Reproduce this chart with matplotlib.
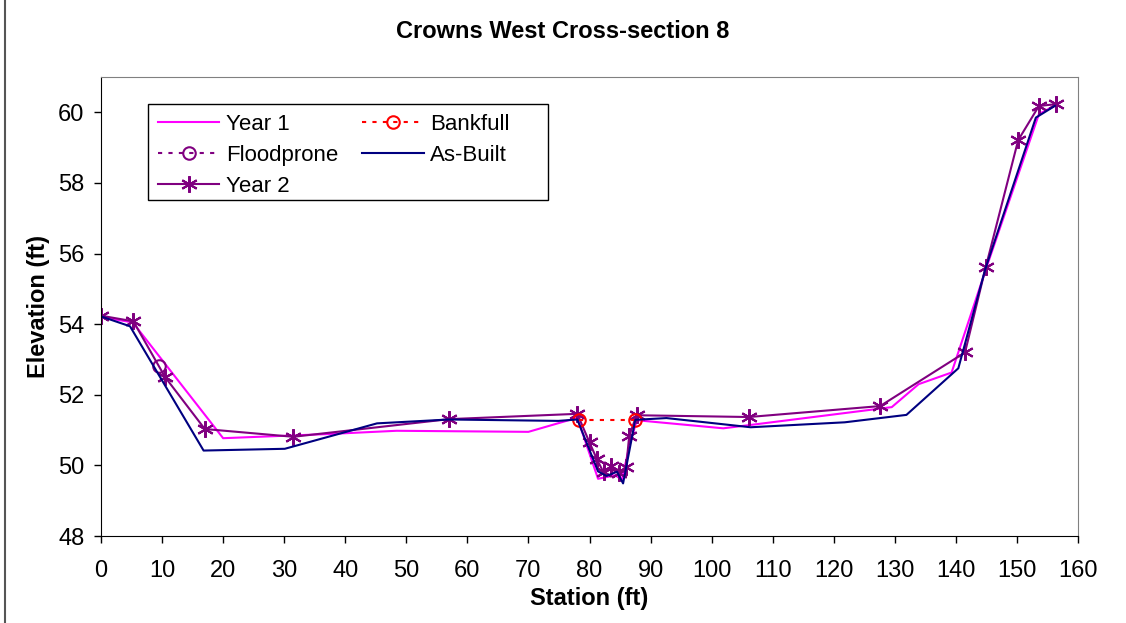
import matplotlib
matplotlib.use("Agg")
import matplotlib.pyplot as plt
from matplotlib.lines import Line2D
from matplotlib.patches import Rectangle

plt.rcParams['font.family'] = ['Liberation Sans', 'DejaVu Sans']

# Year 1 survey
y1_x = [0, 5.2, 20.0, 37.5, 48.4, 70.0, 78.0, 81.4, 84.2, 85.3, 86.6, 87.8, 88.3,
        101.9, 106.6, 129.5, 133.9, 139.3, 145.0, 153.6, 156.3]
y1_y = [54.20, 54.05, 50.77, 50.89, 50.98, 50.95, 51.35, 49.62, 49.72, 49.60, 50.60, 51.30, 51.27,
        51.05, 51.15, 51.65, 52.30, 52.63, 55.60, 59.95, 60.20]

# As-Built survey
ab_x = [0, 4.75, 16.8, 30.1, 45.2, 57.0, 74.9, 78.0, 81.4, 82.8, 84.5, 85.5, 87.5, 92.6,
        106.4, 121.8, 131.9, 140.4, 144.8, 153.1, 156.2]
ab_y = [54.22, 53.94, 50.42, 50.47, 51.19, 51.30, 51.26, 51.30, 49.83, 49.70, 49.82, 49.49, 51.29, 51.34,
        51.08, 51.22, 51.43, 52.75, 55.55, 59.85, 60.18]

# Year 2 survey
y2_x = [0, 5.3, 10.5, 17.0, 31.5, 57.0, 78.0, 80.0, 81.2, 82.3, 83.6, 84.8, 86.0, 86.5, 87.7,
        106.1, 127.6, 141.5, 144.9, 150.2, 153.6, 156.4]
y2_y = [54.24, 54.08, 52.50, 51.03, 50.81, 51.31, 51.46, 50.65, 50.18, 49.80, 49.97, 49.78, 49.95, 50.83, 51.42,
        51.37, 51.68, 53.20, 55.62, 59.21, 60.18, 60.23]

# Bankfull and floodprone
bf_x = [78.3, 87.5]
bf_y = [51.29, 51.29]
fp_x = [9.5]
fp_y = [52.82]

xticks = list(range(0, 161, 10))
yticks = list(range(48, 61, 2))

W, H = 1126, 623
fig = plt.figure(figsize=(W/100, H/100), dpi=100)
L, R, T, B = 101, 1078, 77, 536
ax = fig.add_axes([L/W, 1 - B/H, (R - L)/W, (B - T)/H])

ax.plot(y1_x, y1_y, color='#FF00FF', lw=1.5, label='Year 1')
ax.plot(fp_x, fp_y, color='#800080', ls=(0, (2, 3)), lw=1.5, marker='o', ms=9,
        mfc='none', mec='#800080', mew=1.5, label='Floodprone')
ax.plot(y2_x, y2_y, color='#800080', lw=1.5, marker=(6, 2, 0), ms=12, mew=1.5,
        mec='#800080', label='Year 2')
ax.plot(bf_x, bf_y, color='#FF0000', ls=(0, (2, 3)), lw=1.5, marker='o', ms=9,
        mfc='none', mec='#FF0000', mew=1.5, label='Bankfull')
ax.plot(ab_x, ab_y, color='#000080', lw=1.5, label='As-Built')

ax.set_xlim(0, 160)
ax.set_ylim(48, 61)
ax.set_xticks(xticks)
ax.set_yticks(yticks)
ax.tick_params(labelsize=17, direction='out', length=5, width=1)
ax.tick_params(axis='x', pad=12)
ax.tick_params(axis='y', pad=7)
for s in ['top', 'right']:
    ax.spines[s].set_color('#808080')
for s in ['left', 'bottom']:
    ax.spines[s].set_color('black')

ax.set_xlabel('Station (ft)', fontsize=17, fontweight='bold', labelpad=4)
ax.set_ylabel('Elevation (ft)', fontsize=17, fontweight='bold', labelpad=6)
fig.text(0.5, 1 - 32/H, 'Crowns West Cross-section 8', fontsize=17,
         fontweight='bold', ha='center', va='center')

# legend box (Excel-style, extra room on the right)
lx0, lx1, ly0, ly1 = 148, 548, 104, 200
ax.add_patch(Rectangle(((lx0 - L)/(R - L), (B - ly1)/(B - T)),
                       (lx1 - lx0)/(R - L), (ly1 - ly0)/(B - T),
                       transform=ax.transAxes, facecolor='white',
                       edgecolor='black', lw=1.0, zorder=4))
handles, labels = ax.get_legend_handles_labels()
leg = ax.legend(handles, labels, ncol=2, loc='upper left',
                bbox_to_anchor=((lx0 - L)/(R - L), (B - ly0)/(B - T)),
                fontsize=16, frameon=False, handlelength=2.75,
                handletextpad=0.3, columnspacing=1.1, labelspacing=0.45,
                borderpad=0.45, borderaxespad=0)
leg.set_zorder(5)

fig.add_artist(Line2D([5/W, 5/W], [0, 1], color='#555555', lw=1.5))

fig.savefig('out.png', dpi=100)
